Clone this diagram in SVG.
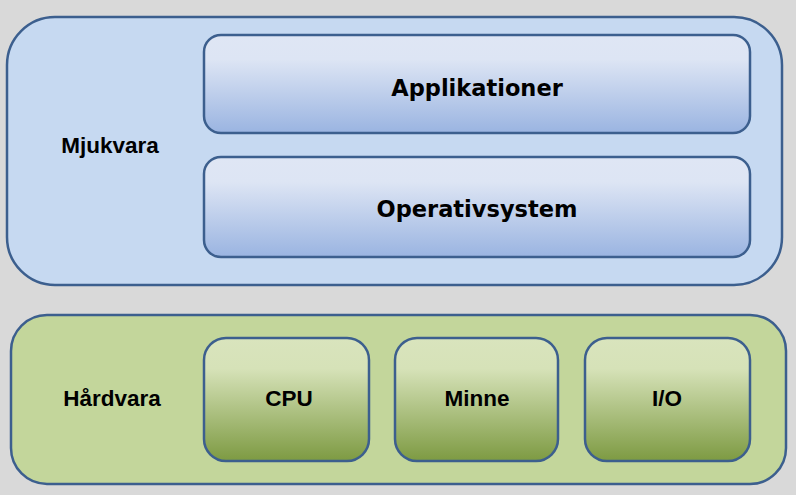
<svg xmlns="http://www.w3.org/2000/svg" width="796" height="495" viewBox="0 0 796 495">
<defs>
<linearGradient id="gb" x1="0" y1="0" x2="0" y2="1">
<stop offset="0" stop-color="#dfe6f4"/>
<stop offset="0.25" stop-color="#dde5f4"/>
<stop offset="1" stop-color="#9ab4e1"/>
</linearGradient>
<linearGradient id="gg" x1="0" y1="0" x2="0" y2="1">
<stop offset="0" stop-color="#d9e4bd"/>
<stop offset="0.25" stop-color="#d6e2b8"/>
<stop offset="1" stop-color="#7d9a42"/>
</linearGradient>
<style>
.st{stroke:#3c5f8e;stroke-width:2.5}
.t1{font-family:"DejaVu Sans",Verdana,sans-serif;font-weight:bold;font-size:22.5px;fill:#000;text-anchor:middle}
.t2{font-family:"Liberation Sans",Arial,sans-serif;font-weight:bold;font-size:22.5px;fill:#000;text-anchor:middle}
</style>
</defs>
<rect width="796" height="495" fill="#d9d9d9"/>
<g id="mjukvara">
<rect class="st" x="7" y="17" width="775" height="268" rx="48" fill="#c6d9f1"/>
<text class="t2" x="110" y="153">Mjukvara</text>
</g>
<g id="applikationer">
<rect class="st" x="204" y="35" width="546" height="98" rx="17" fill="url(#gb)"/>
<text class="t1" x="477" y="96">Applikationer</text>
</g>
<g id="operativsystem">
<rect class="st" x="204" y="157" width="546" height="100" rx="17" fill="url(#gb)"/>
<text class="t1" x="477" y="217">Operativsystem</text>
</g>
<g id="hardvara">
<rect class="st" x="11" y="315" width="775" height="169" rx="36" fill="#c3d69b"/>
<text class="t2" x="112" y="406">Hårdvara</text>
</g>
<g id="cpu">
<rect class="st" x="204" y="338" width="165" height="123" rx="22" fill="url(#gg)"/>
<text class="t2" x="289" y="406">CPU</text>
</g>
<g id="minne">
<rect class="st" x="395" y="338" width="163" height="123" rx="22" fill="url(#gg)"/>
<text class="t2" x="477" y="406">Minne</text>
</g>
<g id="io">
<rect class="st" x="585" y="338" width="165" height="123" rx="22" fill="url(#gg)"/>
<text class="t2" x="667" y="406">I/O</text>
</g>
<g id="connectors"/>
</svg>
